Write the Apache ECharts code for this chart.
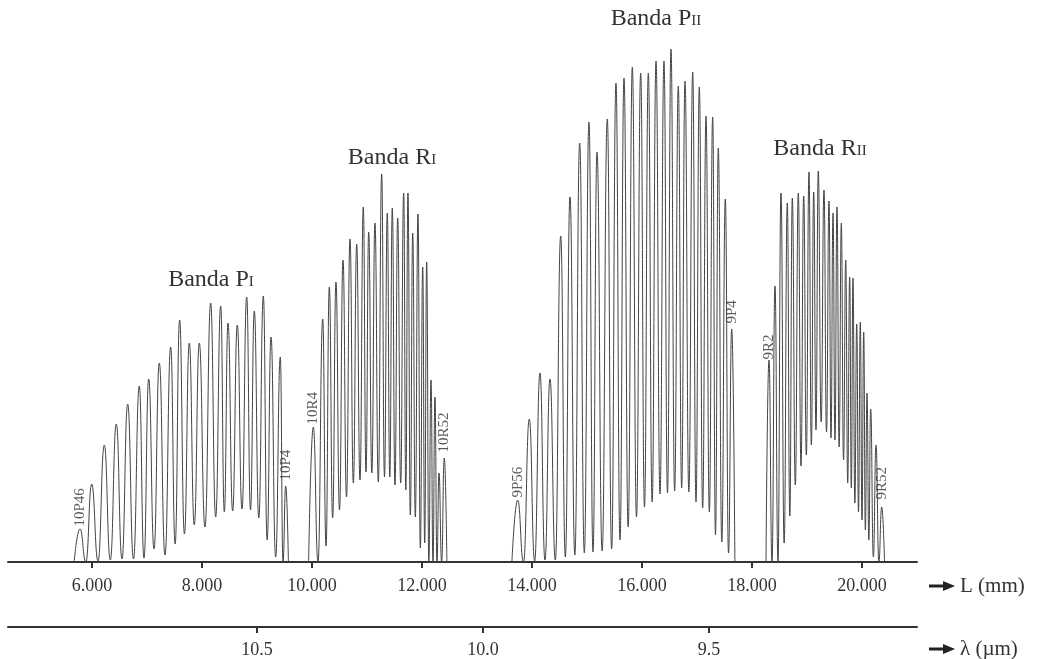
<!DOCTYPE html>
<html>
<head>
<meta charset="utf-8">
<title>Bandas CO2</title>
<script src="https://cdn.jsdelivr.net/npm/echarts@6/dist/echarts.min.js"></script>
<style>
  html, body { margin: 0; padding: 0; background: #fff; }
  #chart { width: 1037px; height: 659px; }
</style>
</head>
<body>
<div id="chart"></div>
<script>
// posiciones de las lineas (L en mm), alturas de pico y alturas de los valles entre picos
const piPos = [5782, 5995, 6224, 6442, 6649, 6860, 7031, 7224, 7431, 7593, 7769, 7951, 8158, 8340, 8473, 8642, 8813, 8951, 9115, 9255, 9424, 9522];
const piHeight = [33, 78, 117, 138, 158, 176, 183, 199, 215, 242, 219, 219, 259, 256, 239, 237, 265, 251, 266, 225, 205, 76];
const piValley = [0, 1, 2, 3, 3, 4, 13, 7, 18, 28, 37, 35, 45, 50, 51, 53, 52, 44, 22, 5, 0];

const riPos = [10024, 10195, 10315, 10436, 10564, 10691, 10813, 10933, 11031, 11145, 11267, 11369, 11460, 11558, 11667, 11745, 11831, 11927, 12013, 12085, 12164, 12236, 12309, 12405];
const riHeight = [135, 243, 275, 280, 302, 323, 318, 355, 330, 339, 388, 349, 354, 344, 369, 369, 329, 348, 295, 300, 182, 165, 89, 104];
const riValley = [0, 16, 44, 52, 65, 79, 82, 90, 89, 80, 85, 85, 77, 79, 72, 47, 45, 14, 19, 0, 0, 0, 0];

const piiPos = [13740, 13951, 14145, 14327, 14522, 14691, 14867, 15036, 15182, 15369, 15527, 15673, 15824, 15976, 16115, 16255, 16400, 16527, 16660, 16782, 16922, 17042, 17164, 17285, 17387, 17515, 17631];
const piiHeight = [62, 143, 189, 183, 326, 365, 419, 440, 410, 443, 479, 484, 495, 489, 489, 501, 501, 513, 476, 481, 490, 475, 446, 445, 414, 363, 233];
const piiValley = [0, 1, 2, 2, 5, 7, 9, 10, 11, 13, 22, 35, 45, 55, 60, 68, 69, 71, 74, 70, 60, 54, 50, 27, 20, 9];

const riiPos = [18309, 18418, 18527, 18642, 18733, 18842, 18940, 19036, 19122, 19205, 19309, 19400, 19473, 19545, 19624, 19704, 19776, 19836, 19904, 19969, 20031, 20091, 20158, 20255, 20358];
const riiHeight = [202, 276, 369, 359, 364, 369, 366, 390, 370, 391, 372, 361, 349, 355, 339, 302, 285, 284, 238, 240, 230, 169, 153, 117, 55];
const riiValley = [0, 0, 19, 46, 77, 96, 107, 117, 132, 140, 130, 124, 122, 115, 102, 79, 74, 59, 50, 42, 32, 22, 5, 0];

// marcas de los ejes
const lTicks = [6000, 8000, 10000, 12000, 14000, 16000, 18000, 20000];
const lambdaTicks = [10.5, 10.0, 9.5];

// lineas etiquetadas: [L, altura, nombre]
const lineLabels = [
  [piPos[0], piHeight[0], '10P46'],
  [piPos[21], piHeight[21], '10P4'],
  [riPos[0], riHeight[0], '10R4'],
  [riPos[23], riHeight[23], '10R52'],
  [piiPos[0], piiHeight[0], '9P56'],
  [piiPos[26], piiHeight[26], '9P4'],
  [riiPos[0], riiHeight[0], '9R2'],
  [riiPos[24], riiHeight[24], '9R52']
];
const labelShift = [0, 3, 0, 3, 0, 3, -2, 5];

const serif = "'Liberation Serif', 'DejaVu Serif', serif";
const ink = '#333';

// construye la curva de una banda: pie, pico, valle, pico, ..., pie
function bandLine(pos, height, valley) {
  const n = pos.length;
  const pts = [[pos[0] - (pos[1] - pos[0]) / 2, 0]];
  for (let i = 0; i < n; i++) {
    pts.push([pos[i], height[i]]);
    if (i < n - 1) pts.push([(pos[i] + pos[i + 1]) / 2, valley[i]]);
  }
  pts.push([pos[n - 1] + (pos[n - 1] - pos[n - 2]) / 2, 0]);
  return pts;
}

function lineSeries(data) {
  return {
    type: 'line',
    data: data,
    xAxisIndex: 0,
    showSymbol: false,
    smooth: 0.5,
    smoothMonotone: 'x',
    lineStyle: { color: '#444', width: 1 },
    z: 3
  };
}

function bandTitle(x, y, main, sub) {
  return {
    type: 'text',
    x: x,
    y: y,
    style: {
      text: '{a|' + main + '}{s|' + sub + '}',
      align: 'center',
      verticalAlign: 'middle',
      rich: {
        a: { fontFamily: serif, fontSize: 24, fill: ink, verticalAlign: 'bottom', lineHeight: 28 },
        s: { fontFamily: serif, fontSize: 15, fill: ink, verticalAlign: 'bottom', lineHeight: 28, padding: [0, 0, 2, 0] }
      }
    }
  };
}

function axisName(top, text) {
  return [
    { type: 'line', shape: { x1: 929, y1: top, x2: 945, y2: top }, style: { stroke: '#222', lineWidth: 3 } },
    { type: 'polygon', shape: { points: [[943, top - 5], [955, top], [943, top + 5]] }, style: { fill: '#222' } },
    { type: 'text', x: 960, y: top, style: { text: text, verticalAlign: 'middle', fontFamily: serif, fontSize: 21, fill: ink } }
  ];
}

const chart = echarts.init(document.getElementById('chart'));
chart.setOption({
  animation: false,
  backgroundColor: '#fff',
  grid: { left: 8, right: 120, top: 42, bottom: 97 },
  xAxis: [
    {
      type: 'value',
      min: 4473,
      max: 21000,
      axisLine: { lineStyle: { color: ink, width: 2 } },
      axisTick: { customValues: lTicks, length: 6, lineStyle: { color: ink, width: 2 } },
      axisLabel: {
        customValues: lTicks,
        margin: 15,
        fontFamily: serif,
        fontSize: 18,
        color: ink,
        formatter: (v) => (v / 1000).toFixed(3)
      },
      splitLine: { show: false }
    },
    {
      type: 'value',
      position: 'bottom',
      offset: 65,
      inverse: true,
      min: 9.04,
      max: 11.051,
      axisLine: { lineStyle: { color: ink, width: 2 } },
      axisTick: { customValues: lambdaTicks, length: 6, lineStyle: { color: ink, width: 2 } },
      axisLabel: {
        customValues: lambdaTicks,
        margin: 14,
        fontFamily: serif,
        fontSize: 18,
        color: ink,
        formatter: (v) => v.toFixed(1)
      },
      splitLine: { show: false }
    }
  ],
  yAxis: { type: 'value', min: 0, max: 520, show: false },
  series: [
    lineSeries(bandLine(piPos, piHeight, piValley)),
    lineSeries(bandLine(riPos, riHeight, riValley)),
    lineSeries(bandLine(piiPos, piiHeight, piiValley)),
    lineSeries(bandLine(riiPos, riiHeight, riiValley)),
    {
      type: 'scatter',
      xAxisIndex: 0,
      symbolSize: 1,
      itemStyle: { color: 'rgba(0,0,0,0)' },
      z: 4,
      data: lineLabels.map((d, i) => ({
        value: [d[0], d[1]],
        label: {
          show: true,
          formatter: d[2],
          position: 'top',
          distance: 2,
          rotate: 90,
          align: 'left',
          verticalAlign: 'middle',
          offset: [labelShift[i], 0],
          fontFamily: serif,
          fontSize: 15,
          color: ink
        }
      }))
    }
  ],
  graphic: [
    bandTitle(211, 278, 'Banda P', 'I'),
    bandTitle(392, 156, 'Banda R', 'I'),
    bandTitle(656, 17, 'Banda P', 'II'),
    bandTitle(820, 147, 'Banda R', 'II')
  ].concat(axisName(586, 'L (mm)'), axisName(649, 'λ (µm)'))
});
</script>
</body>
</html>
